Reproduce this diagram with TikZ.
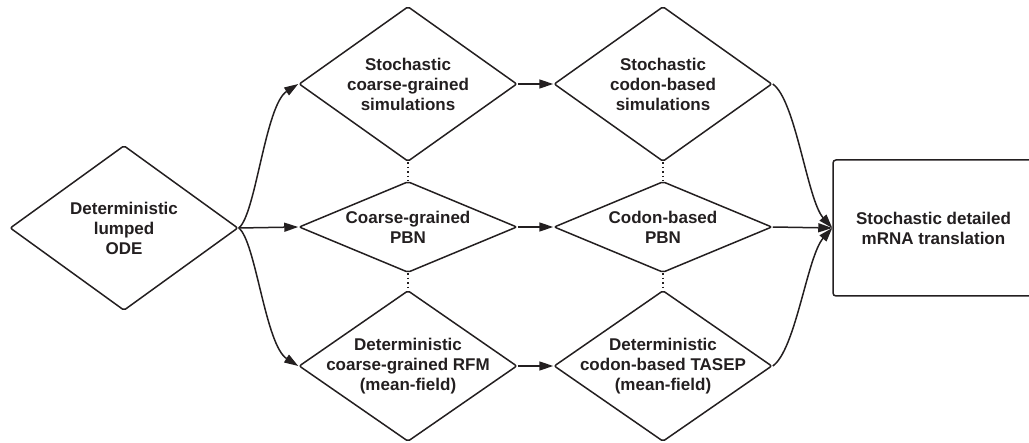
\documentclass[tikz,border=0pt]{standalone}
\usepackage{fontspec}
\setmainfont{Liberation Sans}
\usetikzlibrary{shapes.geometric,arrows.meta}
\definecolor{ink}{HTML}{231F20}
\begin{document}
\begin{tikzpicture}[x=1pt,y=-1pt,
  every node/.style={font=\fontsize{17}{20}\selectfont\bfseries, text=ink, align=center},
  dia/.style={shape=diamond, draw=ink, line width=1.5pt, rounded corners=2pt,
    inner xsep=-30pt, inner ysep=-15pt, minimum width=218pt},
  bigdia/.style={dia, minimum height=155pt},
  flatdia/.style={dia, minimum height=91pt},
  conn/.style={draw=ink, line width=1.5pt, -{Triangle[length=14pt,width=9pt]}},
  dots/.style={draw=ink, line width=1.1pt, dash pattern=on 1.5pt off 3pt}]
\useasboundingbox (0,0) rectangle (1029,443);
\clip (0,0) rectangle (1029,443);
\node[dia, minimum width=228pt, minimum height=165pt] (o) at (124,228) {Deterministic\\lumped\\ODE};
\node[bigdia] (s1) at (408,84) {Stochastic\\coarse-grained\\simulations};
\node[flatdia] (p1) at (408,227) {Coarse-grained\\PBN};
\node[dia, minimum height=151pt] (d1) at (408,366) {Deterministic\\coarse-grained RFM\\(mean-field)};
\node[bigdia] (s2) at (663,84) {Stochastic\\codon-based\\simulations};
\node[flatdia] (p2) at (663,227) {Codon-based\\PBN};
\node[dia, minimum height=151pt] (d2) at (663,366) {Deterministic\\codon-based TASEP\\(mean-field)};
\node[draw=ink, line width=1.5pt, rounded corners=3pt, minimum width=201pt, minimum height=136pt, inner sep=0pt] (r) at (933.5,228) {Stochastic detailed\\mRNA translation};
% connectors
\draw[conn] (o.east) .. controls +(17,-13) and +(-33,21) .. (s1.west);
\draw[conn] (o.east) -- (p1.west);
\draw[conn] (o.east) .. controls +(17,13) and +(-33,-21) .. (d1.west);
\draw[conn] (s1.east) -- (s2.west);
\draw[conn] (p1.east) -- (p2.west);
\draw[conn] (d1.east) -- (d2.west);
\draw[conn] (s2.east) .. controls +(23,16) and +(-25,-28) .. (r.west);
\draw[conn] (p2.east) -- (r.west);
\draw[conn] (d2.east) .. controls +(23,-16) and +(-25,28) .. (r.west);
% dotted links
\draw[dots] (s1.south) -- (p1.north);
\draw[dots] (p1.south) -- (d1.north);
\draw[dots] (s2.south) -- (p2.north);
\draw[dots] (p2.south) -- (d2.north);
\end{tikzpicture}
\end{document}
